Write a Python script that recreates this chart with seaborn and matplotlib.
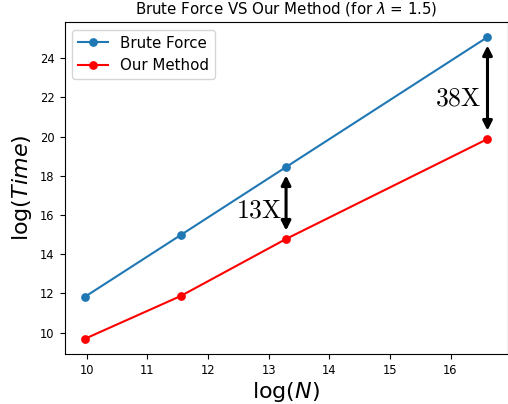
import matplotlib
matplotlib.use("Agg")
import matplotlib.pyplot as plt
import seaborn as sns
import numpy as np
import pandas as pd

plt.rcParams['mathtext.fontset'] = 'dejavusans'

log_n = [9.966, 11.551, 13.288, 16.610]
brute_force = [11.82, 14.98, 18.45, 25.08]
our_method = [9.68, 11.87, 14.78, 19.88]
series_names = ["Brute Force", "Our Method"]
speedup_labels = ["13X", "38X"]
speedup_idx = [2, 3]

df = pd.DataFrame({
    "logN": log_n * 2,
    "logT": brute_force + our_method,
    "method": [series_names[0]] * 4 + [series_names[1]] * 4,
})

fig = plt.figure(figsize=(5.08, 4.04), dpi=100)
ax = fig.add_axes([64.5 / 508, 50 / 404, 443 / 508, 332 / 404])
sns.lineplot(data=df, x="logN", y="logT", hue="method", marker="o",
             palette=["#1f77b4", "red"], markeredgewidth=0, markersize=6.3,
             linewidth=1.5, ax=ax)

ax.set_title(r"Brute Force VS Our Method (for $\lambda$ = 1.5)", fontsize=10.8)
ax.set_xlabel(r"log($N$)", fontsize=16, labelpad=2)
ax.set_ylabel(r"log($Time$)", fontsize=16)
ax.tick_params(labelsize=8.3)
ax.set_xticks([10, 11, 12, 13, 14, 15, 16])
ax.set_yticks([10, 12, 14, 16, 18, 20, 22, 24])
ax.set_xlim(9.634, 16.94)
ax.set_ylim(8.91, 25.85)

handles, labels = ax.get_legend_handles_labels()
ax.legend(handles, labels, loc="upper left", fontsize=10.8)

text_pos = [(12.85, 16.25), (16.12, 21.97)]
for lab, i, (tx, ty) in zip(speedup_labels, speedup_idx, text_pos):
    x = log_n[i]
    ax.annotate("", xy=(x, our_method[i]), xytext=(x, brute_force[i]),
                arrowprops=dict(arrowstyle="<|-|>", color="black", lw=2.2,
                                mutation_scale=14, shrinkA=6, shrinkB=6))
    ax.text(tx, ty, r"$\mathrm{" + lab + "}$", fontsize=18.5, ha="center", va="center",
            math_fontfamily="cm")

fig.savefig("out.png", dpi=100)
